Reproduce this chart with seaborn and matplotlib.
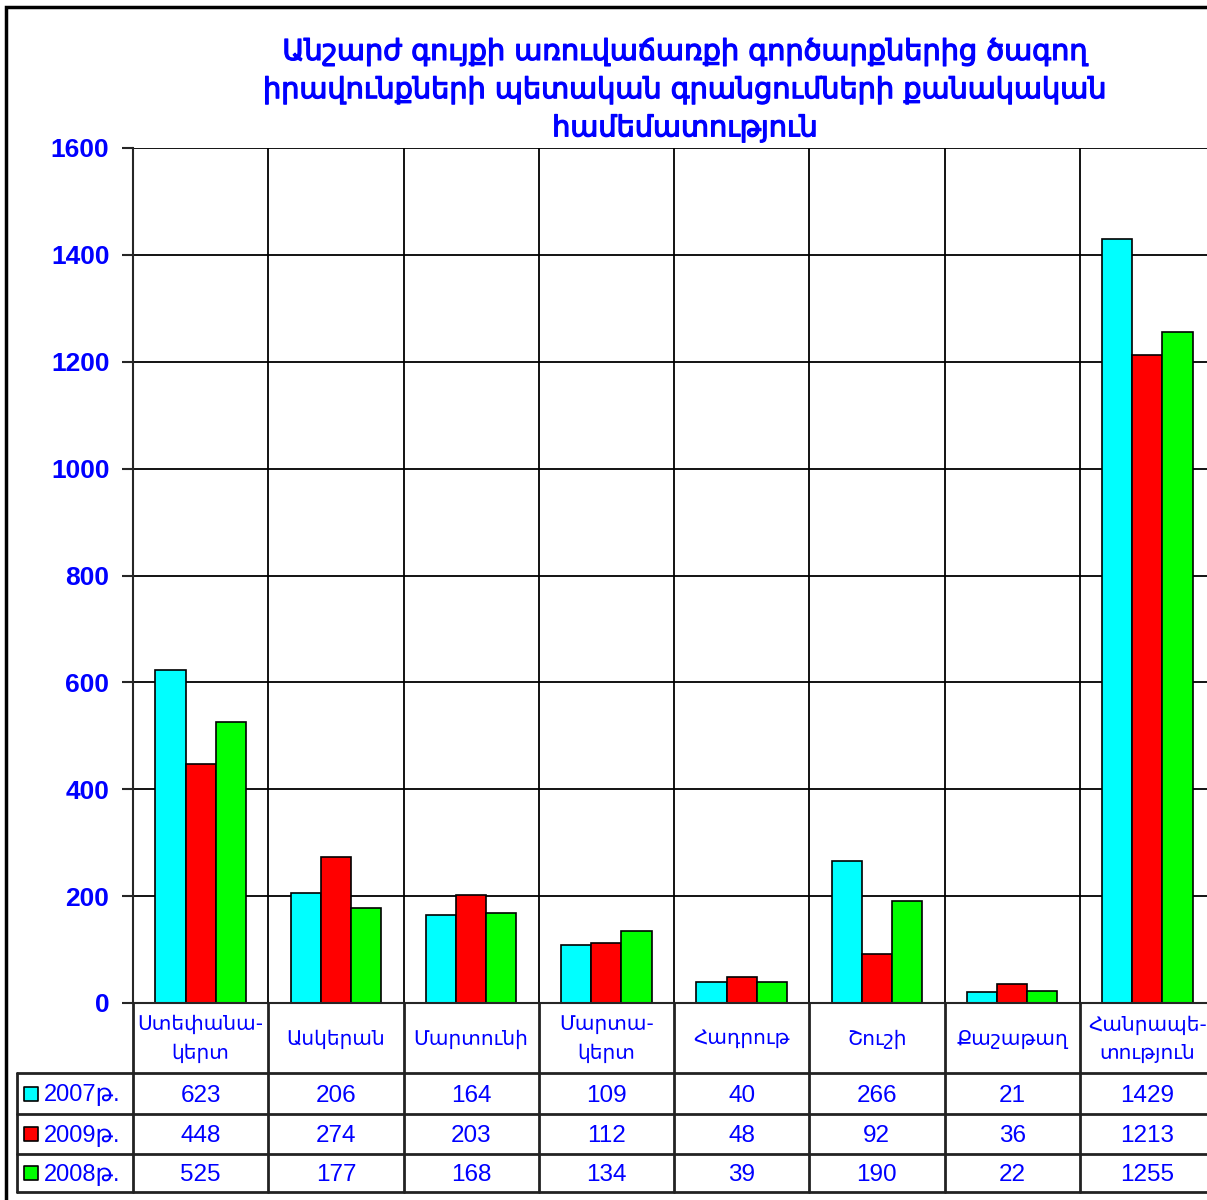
import matplotlib
matplotlib.use("Agg")
import matplotlib.pyplot as plt
import matplotlib.patheffects as pe
import seaborn as sns
import pandas as pd
import numpy as np

# Data
regions = ['Ստեփանա-\nկերտ', 'Ասկերան', 'Մարտունի', 'Մարտա-\nկերտ',
           'Հադրութ', 'Շուշի', 'Քաշաթաղ', 'Հանրապե-\nտություն']
years = ['2007թ.', '2009թ.', '2008թ.']
values_2007 = [623, 206, 164, 109, 40, 266, 21, 1429]
values_2009 = [448, 274, 203, 112, 48, 92, 36, 1213]
values_2008 = [525, 177, 168, 134, 39, 190, 22, 1255]
colors = ['#00FFFF', '#FF0000', '#00FF00']
yticks = [0, 200, 400, 600, 800, 1000, 1200, 1400, 1600]
title = ('Անշարժ գույքի առուվաճառքի գործարքներից ծագող\n'
         'իրավունքների պետական գրանցումների քանակական\n'
         'համեմատություն')

series = [values_2007, values_2009, values_2008]
df = pd.DataFrame({
    'region': regions * 3,
    'year': [y for y in years for _ in regions],
    'value': values_2007 + values_2009 + values_2008,
})

sns.set_style('white')
plt.rcParams['font.family'] = ['Liberation Sans', 'DejaVu Sans']
blue = '#0000FF'

W, H = 1207, 1200
fig = plt.figure(figsize=(W / 100, H / 100), dpi=100)

# pixel layout
x_left, x_right = 133, 1215
y_top, y_zero = 148, 1003
ax = fig.add_axes([x_left / W, 1 - y_zero / H, (x_right - x_left) / W, (y_zero - y_top) / H])

sns.barplot(data=df, x='region', y='value', hue='year', hue_order=years,
            palette=colors, width=0.67, edgecolor='black', linewidth=1.2,
            saturation=1, legend=False, ax=ax)

ax.set_xlim(-0.5, len(regions) - 0.5)
ax.set_ylim(0, 1600)
ax.set_yticks(yticks)
ax.set_yticklabels([str(v) for v in yticks], color=blue, fontweight='bold', fontsize=19)
ax.tick_params(axis='y', direction='out', length=8, width=1.5, pad=9, left=True)
ax.set_xticks([])
ax.set_xticks(np.arange(-0.5, len(regions), 1), minor=True)
ax.tick_params(axis='x', which='minor', length=0)
ax.set_xlabel('')
ax.set_ylabel('')
ax.grid(axis='y', color='black', linewidth=1.3)
ax.grid(axis='x', which='minor', color='black', linewidth=1.3)
ax.set_axisbelow(True)
for s in ['top', 'right']:
    ax.spines[s].set_visible(False)
ax.spines['left'].set_linewidth(1.5)
ax.spines['bottom'].set_linewidth(1.5)

# data table below the chart
t_left, t_top, t_bottom = 17, 1003, 1192
row_edges = [1003, 1073, 1114, 1154, 1192]
cw = (x_right - x_left) / len(regions)
xmin = -0.5 - (x_left - t_left) / cw
axt = fig.add_axes([t_left / W, 1 - t_bottom / H, (x_right - t_left) / W, (t_bottom - t_top) / H])
axt.set_xlim(xmin, len(regions) - 0.5)
axt.set_ylim(t_bottom, t_top)
axt.axis('off')

lc = '#222222'
for r in row_edges[1:]:
    axt.plot([xmin, len(regions) - 0.5], [r, r], color=lc, lw=2, clip_on=False)
for b in np.arange(-0.5, len(regions), 1):
    axt.plot([b, b], [row_edges[0], row_edges[-1]], color=lc, lw=2, clip_on=False)
axt.plot([xmin, xmin], [row_edges[1], row_edges[-1]], color=lc, lw=2, clip_on=False)

for i, name in enumerate(regions):
    axt.text(i, (row_edges[0] + row_edges[1]) / 2 + 1, name, ha='center', va='center',
             color=blue, fontsize=14.5, linespacing=1.6,
             family=['DejaVu Sans'])

for r, (yr, vals, c) in enumerate(zip(years, series, colors)):
    yc = (row_edges[r + 1] + row_edges[r + 2]) / 2 + 2
    axt.scatter([xmin + 14 / cw], [yc - 2], marker='s', s=95, color=c,
                edgecolor='black', linewidth=1.2, clip_on=False, zorder=3)
    axt.text(xmin + 27 / cw, yc, yr, ha='left', va='center', color=blue, fontsize=17)
    for i, v in enumerate(vals):
        axt.text(i, yc, str(v), ha='center', va='center', color=blue, fontsize=17.5)

# title
fig.text(685 / W, 1 - 90 / H, title, ha='center', va='center', color=blue,
         fontsize=20.7, linespacing=1.45, family=['DejaVu Sans'],
         path_effects=[pe.withStroke(linewidth=0.9, foreground=blue)])

# outer frame
fig.add_artist(plt.Rectangle((6 / W, -0.05), 1.1, 1 - 7 / H + 0.05,
                             transform=fig.transFigure, fill=False,
                             edgecolor='black', linewidth=2.5))

fig.savefig('out.png', dpi=100)
